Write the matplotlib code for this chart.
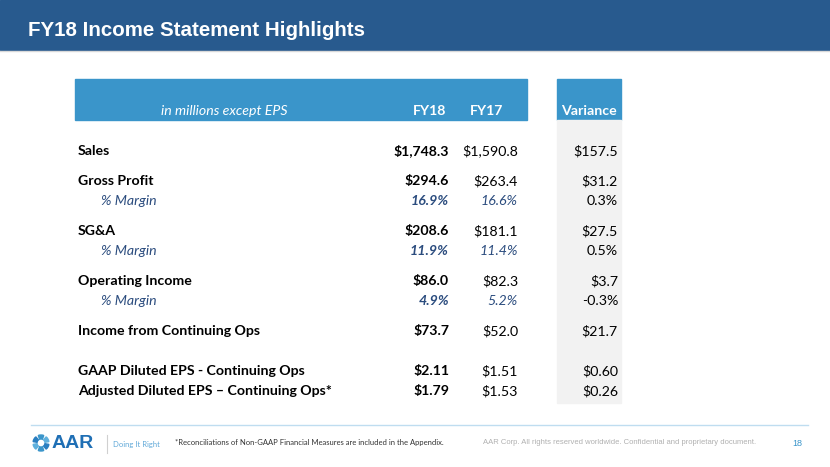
import matplotlib
matplotlib.use("Agg")
import matplotlib.pyplot as plt
from matplotlib.patches import Rectangle, Wedge

# データ
title = "FY18 Income Statement Highlights"
col_headers = ["in millions except EPS", "FY18", "FY17", "Variance"]
row_labels = ["Sales", "Gross Profit", "% Margin", "SG&A", "% Margin",
              "Operating Income", "% Margin", "Income from Continuing Ops",
              "GAAP Diluted EPS - Continuing Ops",
              "Adjusted Diluted EPS \u2013 Continuing Ops*"]
fy18 = ["$1,748.3", "$294.6", "16.9%", "$208.6", "11.9%", "$86.0", "4.9%",
        "$73.7", "$2.11", "$1.79"]
fy17 = ["$1,590.8", "$263.4", "16.6%", "$181.1", "11.4%", "$82.3", "5.2%",
        "$52.0", "$1.51", "$1.53"]
variance = ["$157.5", "$31.2", "0.3%", "$27.5", "0.5%", "$3.7", "-0.3%",
            "$21.7", "$0.60", "$0.26"]
is_margin = [False, False, True, False, True, False, True, False, False, False]
row_y = [151, 181, 201, 231, 251, 281, 301, 331, 371, 391]
footnote = "*Reconciliations of Non-GAAP Financial Measures are included in the Appendix."
copyright_text = "AAR Corp. All rights reserved worldwide. Confidential and proprietary document."
page_no = "18"

# 色
header_blue = "#285A8E"
table_blue = "#3A95CA"
navy = "#2B4C7E"
font = ["Lato", "DejaVu Sans"]
fs = 10.2

fig = plt.figure(figsize=(8.3, 4.67), dpi=100)
ax = fig.add_axes([0, 0, 1, 1])
ax.set_xlim(0, 830)
ax.set_ylim(467, 0)
ax.axis("off")

# タイトル帯
ax.add_patch(Rectangle((0, 0), 830, 50, color=header_blue))
ax.plot([0, 830], [50.5, 50.5], color="#D9D9D9", lw=1)
ax.text(28, 30, title, color="white", fontsize=14.8, fontweight="bold",
        family="Liberation Sans", va="center", ha="left")

# 表ヘッダー
ax.add_patch(Rectangle((75, 79), 452, 41, color=table_blue))
ax.add_patch(Rectangle((557, 79), 64, 41, color=table_blue))
ax.add_patch(Rectangle((557, 120), 64, 283, color="#F2F2F2"))
ax.text(224, 111, col_headers[0], color="white", fontsize=fs, style="italic",
        family=font, ha="center", va="center")
ax.text(430, 111, col_headers[1], color="white", fontsize=fs, fontweight="bold",
        family=font, ha="center", va="center")
ax.text(487, 111, col_headers[2], color="white", fontsize=fs, fontweight="bold",
        family=font, ha="center", va="center")
ax.text(589, 111, col_headers[3], color="white", fontsize=fs, fontweight="bold",
        family=font, ha="center", va="center")

# 行
for lab, a, b, v, m, y in zip(row_labels, fy18, fy17, variance, is_margin, row_y):
    if m:
        ax.text(101, y, lab, color=navy, fontsize=fs, style="italic",
                family=font, va="center")
        ax.text(449, y, a, color=navy, fontsize=fs, style="italic",
                fontweight="bold", family=font, va="center", ha="right")
        ax.text(518, y, b, color=navy, fontsize=fs, style="italic",
                family=font, va="center", ha="right")
    else:
        ax.text(78, y, lab, color="black", fontsize=fs, fontweight="bold",
                family=font, va="center")
        ax.text(449, y, a, color="black", fontsize=fs, fontweight="bold",
                family=font, va="center", ha="right")
        ax.text(518, y, b, color="black", fontsize=fs,
                family=font, va="center", ha="right")
    ax.text(618, y, v, color="black", fontsize=fs, family=font,
            va="center", ha="right")

# フッター
ax.plot([31, 808], [425, 425], color="#BFDDF0", lw=1)
for i in range(6):
    ax.add_patch(Wedge((41, 443), 8, i * 60 + 10, i * 60 + 50, width=4,
                       color=["#2A7FC1", "#3A95CA", "#5FB0DD"][i % 3]))
ax.text(52, 444, "AAR", color="#1F6FB5", fontsize=14, fontweight="bold",
        family="Liberation Sans", va="center")
ax.plot([107, 107], [435, 453], color="#D0D0D0", lw=0.8)
ax.text(113, 444, "Doing It Right", color="#5FA8D8", fontsize=5.5,
        family=font, va="center")
ax.text(175, 443, footnote, color="#333333", fontsize=5.5,
        family=font, va="center")
ax.text(483, 443, copyright_text, color="#B0B0B0", fontsize=5.5,
        family="Liberation Sans", va="center")
ax.text(797, 443, page_no, color="#3A95CA", fontsize=6.5,
        family="Liberation Sans", va="center", ha="center")

fig.savefig("out.png", dpi=100)
